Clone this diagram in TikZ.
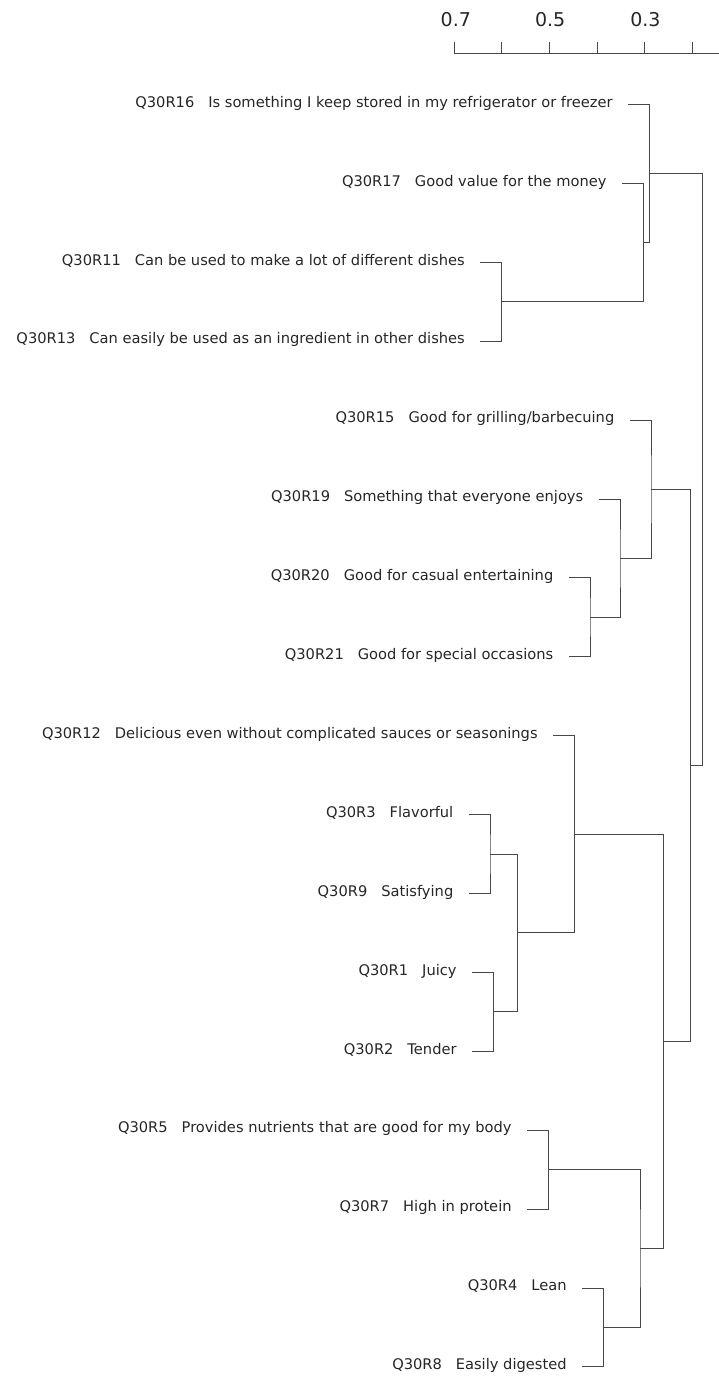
\documentclass[tikz,border=0pt]{standalone}
\usepackage{fontspec}
\setmainfont{DejaVu Sans}
\begin{document}
\begin{tikzpicture}[x=1pt,y=-1pt,
  leaf/.style={anchor=mid east,inner sep=0pt,font=\fontsize{14.65}{17}\selectfont,text=black!85},
  ticklabel/.style={anchor=center,inner sep=0pt,font=\fontsize{19}{22}\selectfont,text=black!85},
  link/.style={draw=black!72,line width=1pt},
  axisline/.style={draw=black!72,line width=1pt}]
\useasboundingbox (0,0) rectangle (719,1377);
\newcommand{\gp}{\hspace{0.954em}}
% axis
\coordinate (a0) at (454.3,53.3);
\coordinate (aend) at (719,53.3);
\draw[axisline] (a0) -- (aend);
\foreach \k in {0,...,5}{
  \coordinate (t\k) at (454.3+47.6*\k,53.3);
  \draw[axisline] (t\k) -- ++(0,-11.6);
}
\node[ticklabel] (l07) at (455.8,19.3) {0.7};
\node[ticklabel] (l05) at (550.2,19.3) {0.5};
\node[ticklabel] (l03) at (645.4,19.3) {0.3};
% leaf stub start points
\coordinate (R16) at (627.8,104.5);
\coordinate (R17) at (621.8,183.4);
\coordinate (R11) at (480,262.3);
\coordinate (R13) at (480,341.2);
\coordinate (R15) at (629.5,420.1);
\coordinate (R19) at (598.5,499.0);
\coordinate (R20) at (568.5,577.9);
\coordinate (R21) at (568.5,656.8);
\coordinate (R12) at (552.8,735.7);
\coordinate (R3) at (468.5,814.6);
\coordinate (R9) at (468.5,893.5);
\coordinate (R1) at (471.8,972.4);
\coordinate (R2) at (471.8,1051.3);
\coordinate (R5) at (526.8,1130.2);
\coordinate (R7) at (526.8,1209.1);
\coordinate (R4) at (581.8,1288.0);
\coordinate (R8) at (581.8,1366.9);
% labels
\node[leaf] (L16) at ([xshift=-15]R16) {Q30R16\gp Is something I keep stored in my refrigerator or freezer};
\node[leaf] (L17) at ([xshift=-15]R17) {Q30R17\gp Good value for the money};
\node[leaf] (L11) at ([xshift=-15]R11) {Q30R11\gp Can be used to make a lot of different dishes};
\node[leaf] (L13) at ([xshift=-15]R13) {Q30R13\gp Can easily be used as an ingredient in other dishes};
\node[leaf] (L15) at ([xshift=-15]R15) {Q30R15\gp Good for grilling/barbecuing};
\node[leaf] (L19) at ([xshift=-15]R19) {Q30R19\gp Something that everyone enjoys};
\node[leaf] (L20) at ([xshift=-15]R20) {Q30R20\gp Good for casual entertaining};
\node[leaf] (L21) at ([xshift=-15]R21) {Q30R21\gp Good for special occasions};
\node[leaf] (L12) at ([xshift=-15]R12) {Q30R12\gp Delicious even without complicated sauces or seasonings};
\node[leaf] (L3) at ([xshift=-15]R3) {Q30R3\gp Flavorful};
\node[leaf] (L9) at ([xshift=-15]R9) {Q30R9\gp Satisfying};
\node[leaf] (L1) at ([xshift=-15]R1) {Q30R1\gp Juicy};
\node[leaf] (L2) at ([xshift=-15]R2) {Q30R2\gp Tender};
\node[leaf] (L5) at ([xshift=-15]R5) {Q30R5\gp Provides nutrients that are good for my body};
\node[leaf] (L7) at ([xshift=-15]R7) {Q30R7\gp High in protein};
\node[leaf] (L4) at ([xshift=-15]R4) {Q30R4\gp Lean};
\node[leaf] (L8) at ([xshift=-15]R8) {Q30R8\gp Easily digested};
% merge points
\coordinate (m1) at (501.5,301.75);
\coordinate (m2) at (643.3,242.6);
\coordinate (m3) at (649.3,173.55);
\coordinate (m4) at (590,617.35);
\coordinate (m5) at (620,558.2);
\coordinate (m6) at (651,489.15);
\coordinate (m7) at (490,854.05);
\coordinate (m8) at (493.3,1011.85);
\coordinate (m9) at (517.7,932.95);
\coordinate (m10) at (574.3,834.3);
\coordinate (m11) at (548.3,1169.65);
\coordinate (m12) at (603.3,1327.45);
\coordinate (m13) at (640,1248.55);
\coordinate (m14) at (663.3,1041.4);
\coordinate (m15) at (690.7,765.3);
\coordinate (m16) at (702.7,469.4);
% links
\draw[link] (R11) -| (m1) |- (R13);
\draw[link] (R17) -| (m2) |- (m1);
\draw[link] (R16) -| (m3) |- (m2);
\draw[link] (R20) -| (m4) |- (R21);
\draw[link] (R19) -| (m5) |- (m4);
\draw[link] (R15) -| (m6) |- (m5);
\draw[link] (R3) -| (m7) |- (R9);
\draw[link] (R1) -| (m8) |- (R2);
\draw[link] (m7) -| (m9) |- (m8);
\draw[link] (R12) -| (m10) |- (m9);
\draw[link] (R5) -| (m11) |- (R7);
\draw[link] (R4) -| (m12) |- (R8);
\draw[link] (m11) -| (m13) |- (m12);
\draw[link] (m10) -| (m14) |- (m13);
\draw[link] (m6) -| (m15) |- (m14);
\draw[link] (m3) -| (m16) |- (m15);
\end{tikzpicture}
\end{document}
